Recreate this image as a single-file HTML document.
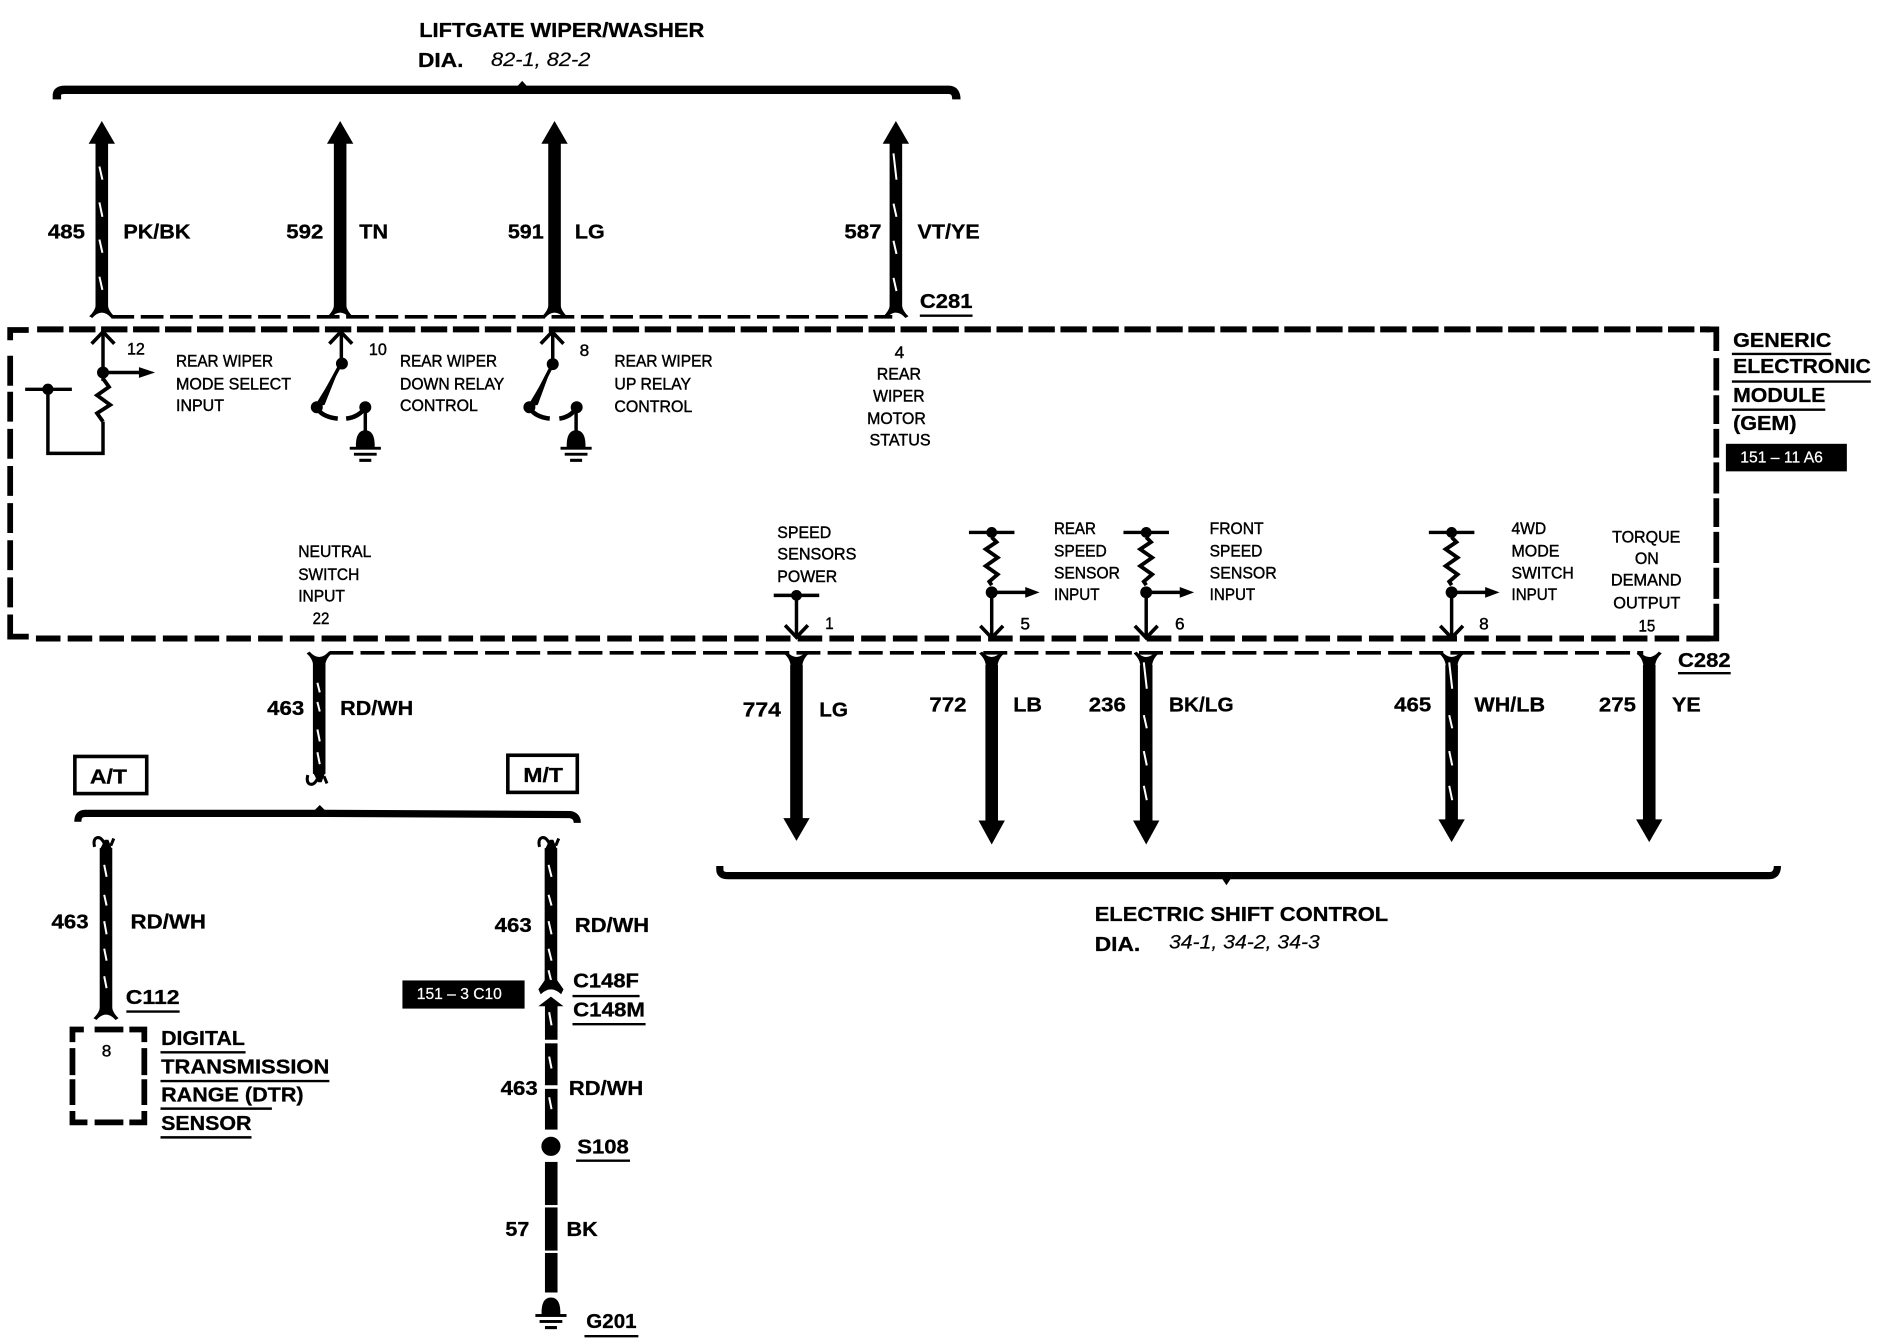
<!DOCTYPE html>
<html><head><meta charset="utf-8"><style>
html,body{margin:0;padding:0;background:#fff}
svg{display:block}
text{font-family:"Liberation Sans",sans-serif;fill:#000}
.b{font-weight:bold;font-size:17px;stroke:#000;stroke-width:.25}
.s{font-size:13.6px;stroke:#000;stroke-width:.35}
.i{font-style:italic;font-size:16.5px;stroke:#000;stroke-width:.15}
.w{fill:#fff;stroke:#fff;stroke-width:.2;font-size:13px}
.t{stroke:#fff;stroke-width:1.7;fill:none}
.l{stroke:#000;fill:none;stroke-width:2.9}
.u{stroke:#000;fill:none;stroke-width:2}
.w10{stroke:#000;fill:none;stroke-width:10.5}
</style></head><body>
<svg xmlns="http://www.w3.org/2000/svg" width="1878" height="1344" viewBox="0 0 1568 1122" preserveAspectRatio="none">
<defs>
<g id="up"><path d="M0,0 L-11,19 L-4.500,19 L-4.500,22 L4.500,22 L4.500,19 L11,19Z"/></g>
<path id="fu" d="M-5,-10 V-3 Q-6,2 -10.500,6 L-8,7.500 Q-4,3 0,3 Q4,3 8,7.500 L10.500,6 Q6,2 5,-3 V-10Z"/>
<path id="fd" d="M-5,10 V3 Q-6,-2 -10.500,-6 L-8,-7.500 Q-4,-3 0,-3 Q4,-3 8,-7.500 L10.500,-6 Q6,-2 5,3 V10Z"/>
<path id="chev" d="M-9.500,10.500 L0,0.500 L9.500,10.500" fill="none" stroke="#000" stroke-width="3"/>
<path id="res" d="M0,0 L4,4 L-5,10 L5,17 L-5,24 L5,31 L-2,37 L0,40" fill="none" stroke="#000" stroke-width="3.200"/>
<g id="tap">
<path class="u" d="M-19,0 H19" style="stroke-width:2.800"/><circle cx="0" cy="0" r="4.500"/>
<use href="#res" y="4"/>
<circle cx="0" cy="50" r="5"/>
<path class="l" d="M0,50 H30"/><path d="M28,45.500 L40,50 L28,54.500Z"/>
<path class="l" d="M0,50 V88"/><use href="#chev" transform="translate(0,88.500) scale(1,-1)"/>
</g>
<g id="gnd">
<path d="M-7.800,7 Q-8.500,-7.800 0,-7.800 Q8.500,-7.800 7.800,7Z"/><rect x="-13" y="6" width="26" height="2.400"/>
<rect x="-9.500" y="11" width="19" height="2.400"/><rect x="-5" y="16" width="10" height="2.600"/>
</g>
<g id="hk"><path d="M-5,-1 H5 L2,7 H-1Z"/><path d="M-1,3 Q-4,10 -8,8.500 Q-11,7 -9.500,1 M4,2 L6.500,8" stroke="#000" stroke-width="2.500" fill="none"/></g>
</defs>

<!-- top brace -->
<path d="M47.500,83 V79 Q48,75 54,75 H792 Q798.500,75 798.500,83" fill="none" stroke="#000" stroke-width="7"/>
<path d="M431,73 L436,67.500 L441,73Z"/>
<text class="b" x="350" y="31" textLength="238" lengthAdjust="spacingAndGlyphs">LIFTGATE WIPER/WASHER</text>
<text class="b" x="349" y="56" textLength="38" lengthAdjust="spacingAndGlyphs">DIA.</text>
<text class="i" x="410" y="55" textLength="83" lengthAdjust="spacingAndGlyphs">82-1, 82-2</text>

<!-- top wires -->
<path class="w10" d="M85,118 V258 M284,118 V258 M463,118 V258 M748,118 V258"/>
<use href="#up" x="85" y="101"/><use href="#up" x="284" y="101"/><use href="#up" x="463" y="101"/><use href="#up" x="748" y="101"/>
<use href="#fu" x="85" y="258"/><use href="#fu" x="284" y="258"/><use href="#fu" x="463" y="258"/><use href="#fu" x="748" y="258"/>
<path class="t" d="M83,139 L85.500,150 M83,169 L85.500,181 M83,200 L85.500,211 M83,231 L85.500,242"/>
<path class="t" d="M746,128 L748.500,150 M746,170 L748.500,181 M746,201 L748.500,212 M746,232 L748.500,243"/>
<path d="M93,264.500 H745" stroke="#000" stroke-width="3" stroke-dasharray="19 5.500" fill="none"/>

<text class="b" x="40" y="199" textLength="31" lengthAdjust="spacingAndGlyphs">485</text>
<text class="b" x="103" y="199" textLength="56" lengthAdjust="spacingAndGlyphs">PK/BK</text>
<text class="b" x="239" y="199" textLength="31" lengthAdjust="spacingAndGlyphs">592</text>
<text class="b" x="300" y="199" textLength="24" lengthAdjust="spacingAndGlyphs">TN</text>
<text class="b" x="424" y="199" textLength="30" lengthAdjust="spacingAndGlyphs">591</text>
<text class="b" x="480" y="199" textLength="25" lengthAdjust="spacingAndGlyphs">LG</text>
<text class="b" x="705" y="199" textLength="31" lengthAdjust="spacingAndGlyphs">587</text>
<text class="b" x="766" y="199" textLength="52" lengthAdjust="spacingAndGlyphs">VT/YE</text>
<text class="b" x="768" y="257" textLength="44" lengthAdjust="spacingAndGlyphs">C281</text>
<path class="u" d="M768,263.500 H812"/>

<!-- module dashed box -->
<path d="M31,275 H1428" stroke="#000" stroke-width="5" stroke-dasharray="22 4.700" fill="none"/>
<path d="M8.500,284 V275.500 H24 M8.500,297 V322 M8.500,327 V352 M8.500,358 V383 M8.500,389 V414 M8.500,420 V445 M8.500,451 V476 M8.500,482 V507 M8.500,513 V531.500 H24" stroke="#000" stroke-width="4.800" fill="none"/>
<path d="M30,533 H1428" stroke="#000" stroke-width="5" stroke-dasharray="20.500 6" fill="none"/>
<path d="M1424,275 H1433 V293 M1433,299 V326 M1433,330 V354 M1433,358 V382 M1433,386 V412 M1433,416 V440 M1433,444 V470 M1433,474 V500 M1433,504 V533 H1424" stroke="#000" stroke-width="4.800" fill="none"/>

<!-- pin 12 -->
<use href="#chev" x="86" y="276.500"/>
<path class="l" d="M86,277 V318 M86,352 V378.500 H40 V325"/>
<circle cx="86" cy="311" r="5"/>
<path class="l" d="M86,311 H119"/><path d="M116,306.500 L129.500,311 L116,315.500Z"/>
<path d="M86,316 L91,323 L81,330 L92,338 L81,345 L86,352" fill="none" stroke="#000" stroke-width="3.200"/>
<path class="l" d="M21,325 H60"/><circle cx="40" cy="325" r="4.700"/>
<text class="s" x="106" y="296" textLength="15" lengthAdjust="spacingAndGlyphs">12</text>
<text class="s" x="147" y="306" textLength="81" lengthAdjust="spacingAndGlyphs">REAR WIPER</text>
<text class="s" x="147" y="325" textLength="96" lengthAdjust="spacingAndGlyphs">MODE SELECT</text>
<text class="s" x="147" y="343" textLength="40" lengthAdjust="spacingAndGlyphs">INPUT</text>

<!-- pin 10 -->
<use href="#chev" x="284.500" y="276.500"/>
<path class="l" d="M285,277 V303 L266,338"/>
<path d="M285,303 L262,340 L271,338Z"/>
<circle cx="285.500" cy="303.500" r="5"/><circle cx="264.500" cy="340" r="5"/>
<path d="M264.500,340 Q268,348 282,349.500 M289,349.500 Q300,348 305,340" stroke="#000" stroke-width="3.800" fill="none"/>
<circle cx="305" cy="340" r="5"/><path class="l" d="M305,340 V362"/>
<use href="#gnd" x="305" y="367"/>
<text class="s" x="308" y="296.500" textLength="15" lengthAdjust="spacingAndGlyphs">10</text>
<text class="s" x="334" y="306" textLength="81" lengthAdjust="spacingAndGlyphs">REAR WIPER</text>
<text class="s" x="334" y="325" textLength="87" lengthAdjust="spacingAndGlyphs">DOWN RELAY</text>
<text class="s" x="334" y="343" textLength="65" lengthAdjust="spacingAndGlyphs">CONTROL</text>

<!-- pin 8 -->
<use href="#chev" x="461" y="276.500"/>
<path class="l" d="M461.500,277 V304 L444,338"/>
<path d="M461.500,304 L440,340 L449,338Z"/>
<circle cx="461.500" cy="304" r="5"/><circle cx="442" cy="340" r="5"/>
<path d="M442,340 Q446,348 459,349.500 M467,349.500 Q477,348 481.500,340" stroke="#000" stroke-width="3.800" fill="none"/>
<circle cx="481.500" cy="340" r="5"/><path class="l" d="M481,340 V362"/>
<use href="#gnd" x="481" y="367"/>
<text class="s" x="484" y="297" textLength="8" lengthAdjust="spacingAndGlyphs">8</text>
<text class="s" x="513" y="306" textLength="82" lengthAdjust="spacingAndGlyphs">REAR WIPER</text>
<text class="s" x="513" y="325" textLength="64" lengthAdjust="spacingAndGlyphs">UP RELAY</text>
<text class="s" x="513" y="344" textLength="65" lengthAdjust="spacingAndGlyphs">CONTROL</text>

<!-- pin 4 -->
<text class="s" x="747" y="299" textLength="8" lengthAdjust="spacingAndGlyphs">4</text>
<text class="s" x="732" y="317" textLength="37" lengthAdjust="spacingAndGlyphs">REAR</text>
<text class="s" x="729" y="335" textLength="43" lengthAdjust="spacingAndGlyphs">WIPER</text>
<text class="s" x="724" y="354" textLength="49" lengthAdjust="spacingAndGlyphs">MOTOR</text>
<text class="s" x="726" y="372" textLength="51" lengthAdjust="spacingAndGlyphs">STATUS</text>

<!-- GEM label -->
<text class="b" x="1447" y="289.500" textLength="82" lengthAdjust="spacingAndGlyphs">GENERIC</text>
<path class="u" d="M1446,295.500 H1529"/>
<text class="b" x="1447" y="311.500" textLength="115" lengthAdjust="spacingAndGlyphs">ELECTRONIC</text>
<path class="u" d="M1446,318.500 H1562"/>
<text class="b" x="1447" y="335.500" textLength="77" lengthAdjust="spacingAndGlyphs">MODULE</text>
<path class="u" d="M1446,342 H1524"/>
<text class="b" x="1447" y="359" textLength="53" lengthAdjust="spacingAndGlyphs">(GEM)</text>
<rect x="1441" y="370.500" width="101" height="23"/>
<text class="w" x="1453" y="386" textLength="69" lengthAdjust="spacingAndGlyphs">151 – 11 A6</text>

<!-- lower module labels -->
<text class="s" x="249" y="465" textLength="61" lengthAdjust="spacingAndGlyphs">NEUTRAL</text>
<text class="s" x="249" y="484" textLength="51" lengthAdjust="spacingAndGlyphs">SWITCH</text>
<text class="s" x="249" y="502" textLength="39" lengthAdjust="spacingAndGlyphs">INPUT</text>
<text class="s" x="261" y="521" textLength="14" lengthAdjust="spacingAndGlyphs">22</text>

<text class="s" x="649" y="449" textLength="45" lengthAdjust="spacingAndGlyphs">SPEED</text>
<text class="s" x="649" y="467" textLength="66" lengthAdjust="spacingAndGlyphs">SENSORS</text>
<text class="s" x="649" y="486" textLength="50" lengthAdjust="spacingAndGlyphs">POWER</text>
<path class="l" d="M646,497 H684 M665,497 V531"/><circle cx="665" cy="497" r="4.500"/>
<use href="#chev" transform="translate(665,532.500) scale(1,-1)"/>
<text class="s" x="689" y="525" textLength="7" lengthAdjust="spacingAndGlyphs">1</text>

<use href="#tap" x="828" y="444.500"/>
<text class="s" x="852" y="525.500" textLength="8" lengthAdjust="spacingAndGlyphs">5</text>
<text class="s" x="880" y="446" textLength="35" lengthAdjust="spacingAndGlyphs">REAR</text>
<text class="s" x="880" y="464.500" textLength="44" lengthAdjust="spacingAndGlyphs">SPEED</text>
<text class="s" x="880" y="483" textLength="55" lengthAdjust="spacingAndGlyphs">SENSOR</text>
<text class="s" x="880" y="501" textLength="38" lengthAdjust="spacingAndGlyphs">INPUT</text>

<use href="#tap" x="957" y="444.500"/>
<text class="s" x="981" y="525.500" textLength="8" lengthAdjust="spacingAndGlyphs">6</text>
<text class="s" x="1010" y="446" textLength="45" lengthAdjust="spacingAndGlyphs">FRONT</text>
<text class="s" x="1010" y="464.500" textLength="44" lengthAdjust="spacingAndGlyphs">SPEED</text>
<text class="s" x="1010" y="483" textLength="56" lengthAdjust="spacingAndGlyphs">SENSOR</text>
<text class="s" x="1010" y="501" textLength="38" lengthAdjust="spacingAndGlyphs">INPUT</text>

<use href="#tap" x="1212" y="444.500"/>
<text class="s" x="1235" y="525.500" textLength="8" lengthAdjust="spacingAndGlyphs">8</text>
<text class="s" x="1262" y="446" textLength="29" lengthAdjust="spacingAndGlyphs">4WD</text>
<text class="s" x="1262" y="464.500" textLength="40" lengthAdjust="spacingAndGlyphs">MODE</text>
<text class="s" x="1262" y="483" textLength="52" lengthAdjust="spacingAndGlyphs">SWITCH</text>
<text class="s" x="1262" y="501" textLength="38" lengthAdjust="spacingAndGlyphs">INPUT</text>

<text class="s" x="1346" y="453" textLength="57" lengthAdjust="spacingAndGlyphs">TORQUE</text>
<text class="s" x="1365" y="471" textLength="20" lengthAdjust="spacingAndGlyphs">ON</text>
<text class="s" x="1345" y="489" textLength="59" lengthAdjust="spacingAndGlyphs">DEMAND</text>
<text class="s" x="1347" y="508" textLength="56" lengthAdjust="spacingAndGlyphs">OUTPUT</text>
<text class="s" x="1368" y="527" textLength="14" lengthAdjust="spacingAndGlyphs">15</text>

<!-- lower dashed connector -->
<path d="M275,545 H1372" stroke="#000" stroke-width="3" stroke-dasharray="20 6" fill="none"/>

<!-- bottom right wires -->
<path class="w10" d="M665,555 V686 M828,555 V688 M957,555 V688 M1212,555 V686 M1377,555 V686"/>
<use href="#fd" x="665" y="551.500"/><use href="#fd" x="828" y="551.500"/><use href="#fd" x="957" y="551.500"/><use href="#fd" x="1212" y="551.500"/><use href="#fd" x="1377" y="551.500"/>
<path d="M654,683 H676 L665,702Z M817,685 H839 L828,705Z M946,685 H968 L957,705Z M1201,684 H1223 L1212,703Z M1366,684 H1388 L1377,703Z"/>
<path class="t" d="M955,553 L957.500,575 M955,597 L957.500,608 M955,627 L957.500,639 M955,656 L957.500,668"/>
<path class="t" d="M1210,553 L1212.500,575 M1210,597 L1212.500,608 M1210,627 L1212.500,639 M1210,656 L1212.500,668"/>

<text class="b" x="620" y="598" textLength="32" lengthAdjust="spacingAndGlyphs">774</text>
<text class="b" x="684" y="598" textLength="24" lengthAdjust="spacingAndGlyphs">LG</text>
<text class="b" x="776" y="594" textLength="31" lengthAdjust="spacingAndGlyphs">772</text>
<text class="b" x="846" y="594" textLength="24" lengthAdjust="spacingAndGlyphs">LB</text>
<text class="b" x="909" y="594" textLength="31" lengthAdjust="spacingAndGlyphs">236</text>
<text class="b" x="976" y="594" textLength="54" lengthAdjust="spacingAndGlyphs">BK/LG</text>
<text class="b" x="1164" y="594" textLength="31" lengthAdjust="spacingAndGlyphs">465</text>
<text class="b" x="1231" y="594" textLength="59" lengthAdjust="spacingAndGlyphs">WH/LB</text>
<text class="b" x="1335" y="594" textLength="31" lengthAdjust="spacingAndGlyphs">275</text>
<text class="b" x="1396" y="594" textLength="24" lengthAdjust="spacingAndGlyphs">YE</text>
<text class="b" x="1401" y="557" textLength="44" lengthAdjust="spacingAndGlyphs">C282</text>
<path class="u" d="M1401,562 H1445"/>

<!-- bottom brace -->
<path d="M601,723 V726 Q601,731 608,731 H1477 Q1484,731 1484,723" fill="none" stroke="#000" stroke-width="6"/>
<path d="M1020,733 L1024,739 L1028,733Z"/>
<text class="b" x="914" y="769" textLength="245" lengthAdjust="spacingAndGlyphs">ELECTRIC SHIFT CONTROL</text>
<text class="b" x="914" y="794" textLength="38" lengthAdjust="spacingAndGlyphs">DIA.</text>
<text class="i" x="976" y="792" textLength="126" lengthAdjust="spacingAndGlyphs">34-1, 34-2, 34-3</text>

<!-- 463 top wire -->
<path class="w10" d="M266.500,553 V646"/>
<use href="#fd" x="266.500" y="551.500"/>
<use href="#hk" x="266.500" y="646"/>
<path class="t" d="M265,570 L267,578 M265,586 L267,594 M265,609 L267,619 M265,628 L267,638"/>
<text class="b" x="223" y="597" textLength="31" lengthAdjust="spacingAndGlyphs">463</text>
<text class="b" x="284" y="597" textLength="61" lengthAdjust="spacingAndGlyphs">RD/WH</text>

<!-- A/T M/T -->
<rect x="62.500" y="631.500" width="60" height="31" fill="none" stroke="#000" stroke-width="3"/>
<text class="b" x="75" y="654" textLength="31" lengthAdjust="spacingAndGlyphs">A/T</text>
<rect x="424" y="630.500" width="58" height="31" fill="none" stroke="#000" stroke-width="3"/>
<text class="b" x="437" y="653" textLength="33" lengthAdjust="spacingAndGlyphs">M/T</text>

<!-- mid brace -->
<path d="M65,686 Q65,679 71,679 L262,679 H272 L476,680 Q482,681 482,687" fill="none" stroke="#000" stroke-width="6"/>
<path d="M262,677 L267,672 L272,677Z"/>

<!-- left wire -->
<path class="w10" d="M88.500,708 V846"/>
<use href="#hk" transform="translate(88.500,708) scale(1,-1)"/>
<use href="#fu" x="88.500" y="844"/>
<path class="t" d="M87,722 L89,732 M87,747 L89,756 M87,769 L89,780 M87,792 L89,802 M87,815 L89,825"/>
<text class="b" x="43" y="775" textLength="31" lengthAdjust="spacingAndGlyphs">463</text>
<text class="b" x="109" y="775" textLength="63" lengthAdjust="spacingAndGlyphs">RD/WH</text>
<text class="b" x="105" y="838" textLength="45" lengthAdjust="spacingAndGlyphs">C112</text>
<path class="u" d="M105.500,844.500 H150"/>

<!-- DTR box -->
<path d="M70,859.500 H60.500 V870 M60.500,875 V897.500 M60.500,901 V922.500 M60.500,927.500 V937 H73 M79,937 H103 M108,937 H120.500 V927.500 M120.500,922.500 V901 M120.500,897.500 V875 M120.500,870 V859.500 H108 M79,859.500 H103" stroke="#000" stroke-width="4.800" fill="none"/>
<text class="s" x="85" y="882" textLength="8" lengthAdjust="spacingAndGlyphs">8</text>
<text class="b" x="134.500" y="872.500" textLength="70" lengthAdjust="spacingAndGlyphs">DIGITAL</text>
<path class="u" d="M134,878.500 H205"/>
<text class="b" x="134.500" y="896" textLength="140.500" lengthAdjust="spacingAndGlyphs">TRANSMISSION</text>
<path class="u" d="M134,902.500 H275"/>
<text class="b" x="134.500" y="919.500" textLength="119" lengthAdjust="spacingAndGlyphs">RANGE (DTR)</text>
<path class="u" d="M134,925.500 H227"/>
<text class="b" x="134.500" y="943.500" textLength="75.500" lengthAdjust="spacingAndGlyphs">SENSOR</text>
<path class="u" d="M134,949.500 H210"/>

<!-- right wire -->
<path class="w10" d="M460,708 V822"/>
<use href="#hk" transform="translate(460,708) scale(1,-1)"/>
<path class="t" d="M458,722 L460.500,732 M458,747 L460.500,756 M458,769 L460.500,780 M458,792 L460.500,802 M458,810 L460.500,820"/>
<path d="M455,818 H465 L470.500,826 L468.500,830 Q460,822 451.500,830 L449.500,826Z"/>
<path d="M460,832 L449.500,840 H455 V868 H465.500 V840 H470.500Z"/>
<path class="t" d="M458.500,845 L460.500,856"/>
<rect x="455" y="871" width="10.500" height="35"/>
<rect x="455" y="909" width="10.500" height="34"/>
<path class="t" d="M458.500,882 L460.500,892 M458.500,916 L460.500,926"/>
<circle cx="460" cy="957" r="8"/>
<rect x="455" y="970" width="10.500" height="36"/>
<rect x="455" y="1008" width="10.500" height="36"/>
<rect x="455" y="1046" width="10.500" height="33"/>
<use href="#gnd" x="460" y="1091"/>
<text class="b" x="413" y="778" textLength="31" lengthAdjust="spacingAndGlyphs">463</text>
<text class="b" x="480" y="778" textLength="62" lengthAdjust="spacingAndGlyphs">RD/WH</text>
<text class="b" x="478.500" y="824.500" textLength="55" lengthAdjust="spacingAndGlyphs">C148F</text>
<path class="u" d="M478,831.500 H534"/>
<text class="b" x="478.500" y="848.500" textLength="60" lengthAdjust="spacingAndGlyphs">C148M</text>
<path class="u" d="M478,855 H539"/>
<rect x="336" y="818.500" width="102" height="23.500"/>
<text class="w" x="348" y="834" textLength="71" lengthAdjust="spacingAndGlyphs">151 – 3 C10</text>
<text class="b" x="418" y="914" textLength="31" lengthAdjust="spacingAndGlyphs">463</text>
<text class="b" x="475" y="914" textLength="62" lengthAdjust="spacingAndGlyphs">RD/WH</text>
<text class="b" x="482" y="963" textLength="43" lengthAdjust="spacingAndGlyphs">S108</text>
<path class="u" d="M481,969 H526"/>
<text class="b" x="422" y="1032" textLength="20" lengthAdjust="spacingAndGlyphs">57</text>
<text class="b" x="473" y="1032" textLength="26" lengthAdjust="spacingAndGlyphs">BK</text>
<text class="b" x="489.500" y="1108.500" textLength="42" lengthAdjust="spacingAndGlyphs">G201</text>
<path class="u" d="M488,1115.500 H533"/>
</svg>
</body></html>
